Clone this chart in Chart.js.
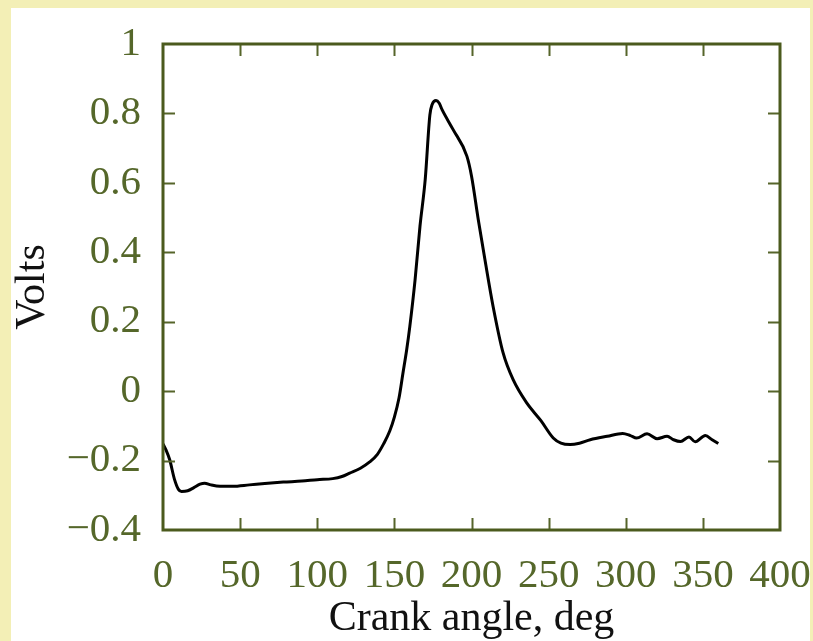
<!DOCTYPE html>
<html>
<head>
<meta charset="utf-8">
<script src="https://cdn.jsdelivr.net/npm/chart.js@4"></script>
<style>
  html, body { margin: 0; padding: 0; }
  body {
    width: 813px;
    height: 641px;
    background: #f3efb6;
    position: relative;
    overflow: hidden;
  }
  #wrap {
    position: absolute;
    left: 11px;
    top: 8px;
    width: 799px;
    height: 633px;
    background: #fff;
  }
</style>
</head>
<body>
<div id="wrap"><canvas id="volts_chart"></canvas></div>
<script>
// crank angle (deg) and sensor output (V)
const angle = [
  0, 2, 4.3, 7.5, 10, 12, 16, 20, 24, 27, 31, 37, 45, 56, 66, 78, 90, 100,
  110, 116, 121, 128, 134, 139, 143, 147, 150, 153, 155.5, 158, 160, 163.4,
  166.6, 170, 173, 174.5, 177, 179, 181, 188, 197, 200, 204.4, 208.7, 214,
  220.5, 227, 235.8, 245, 253, 258, 264, 270, 277, 288, 298, 303, 307, 313.8,
  320.3, 326.8, 331, 335.5, 341, 345, 351.6, 356, 360
];
const volts = [
  -0.152, -0.17, -0.197, -0.255, -0.283, -0.289, -0.287, -0.278, -0.268,
  -0.265, -0.27, -0.274, -0.274, -0.27, -0.266, -0.262, -0.259, -0.255,
  -0.252, -0.246, -0.236, -0.222, -0.204, -0.182, -0.152, -0.115, -0.075,
  -0.02, 0.05, 0.12, 0.186, 0.32, 0.475, 0.61, 0.795, 0.826, 0.837, 0.83,
  0.81, 0.754, 0.677, 0.62, 0.494, 0.379, 0.244, 0.11, 0.033, -0.034,
  -0.085, -0.135, -0.15, -0.154, -0.15, -0.14, -0.13, -0.122, -0.128,
  -0.135, -0.123, -0.137, -0.13, -0.14, -0.145, -0.132, -0.146, -0.128,
  -0.14, -0.151
];
const xTicks = [0, 50, 100, 150, 200, 250, 300, 350, 400];
const yTicks = [-0.4, -0.2, 0, 0.2, 0.4, 0.6, 0.8, 1];

const frameColor = "#4b5a1d";
const labelColor = "#55672a";

Chart.defaults.font.family = "'Liberation Serif', 'DejaVu Serif', serif";

// box around the plot with inward ticks on all four sides
const framePlugin = {
  id: "frame",
  afterDraw(chart) {
    const { ctx, chartArea: a, scales } = chart;
    const len = 12;
    ctx.save();
    ctx.strokeStyle = "#56652a";
    ctx.lineWidth = 2;
    ctx.beginPath();
    xTicks.slice(1, -1).forEach((v) => {
      const px = Math.round(scales.x.getPixelForValue(v)) + 0.5;
      ctx.moveTo(px, a.bottom);
      ctx.lineTo(px, a.bottom - len);
      ctx.moveTo(px, a.top);
      ctx.lineTo(px, a.top + len);
    });
    yTicks.slice(1, -1).forEach((v) => {
      const py = Math.round(scales.y.getPixelForValue(v)) + 0.5;
      ctx.moveTo(a.left, py);
      ctx.lineTo(a.left + len, py);
      ctx.moveTo(a.right, py);
      ctx.lineTo(a.right - len, py);
    });
    ctx.stroke();
    ctx.strokeStyle = frameColor;
    ctx.lineWidth = 3;
    ctx.strokeRect(a.left, a.top, a.right - a.left, a.bottom - a.top);
    ctx.restore();
  },
};

const fmt = (v) => {
  const s = String(Number(v.toFixed(1)));
  return s.replace("-", "\u2212");
};

const ctx = document.getElementById("volts_chart").getContext("2d");
const myChart = new Chart(ctx, {
  type: "line",
  data: {
    datasets: [
      {
        label: "Volts",
        data: angle.map((a, i) => ({ x: a, y: volts[i] })),
        borderColor: "#000",
        borderWidth: 3,
        pointRadius: 0,
        cubicInterpolationMode: "monotone",
        fill: false,
      },
    ],
  },
  options: {
    responsive: true,
    maintainAspectRatio: false,
    animation: false,
    layout: { padding: { top: 36, right: 30, bottom: 0, left: 0 } },
    plugins: {
      legend: { display: false },
      tooltip: { enabled: false },
    },
    scales: {
      x: {
        type: "linear",
        min: 0,
        max: 400,
        afterBuildTicks: (scale) => {
          scale.ticks = xTicks.map((v) => ({ value: v }));
        },
        afterFit: (scale) => {
          scale.height = 111;
          scale.paddingLeft = 0;
          scale.paddingRight = 0;
        },
        grid: { display: false, drawTicks: false },
        border: { display: false },
        ticks: {
          color: labelColor,
          font: { size: 41 },
          padding: 22,
          maxRotation: 0,
          autoSkip: false,
        },
        title: {
          display: true,
          text: "Crank angle, deg",
          color: "#111",
          font: { size: 42, lineHeight: 1 },
          padding: { top: 0, bottom: 1 },
        },
      },
      y: {
        min: -0.4,
        max: 1,
        afterBuildTicks: (scale) => {
          scale.ticks = yTicks.map((v) => ({ value: v }));
        },
        afterFit: (scale) => {
          scale.width = 152;
          scale.paddingTop = 0;
          scale.paddingBottom = 0;
        },
        grid: { display: false, drawTicks: false },
        border: { display: false },
        ticks: {
          color: labelColor,
          font: { size: 41 },
          padding: 22,
          autoSkip: false,
          callback: (value) => fmt(value),
        },
        title: {
          display: true,
          text: "Volts",
          color: "#111",
          font: { size: 42, lineHeight: 1 },
          padding: { top: 1, bottom: 0 },
        },
      },
    },
  },
  plugins: [framePlugin],
});
</script>
</body>
</html>
